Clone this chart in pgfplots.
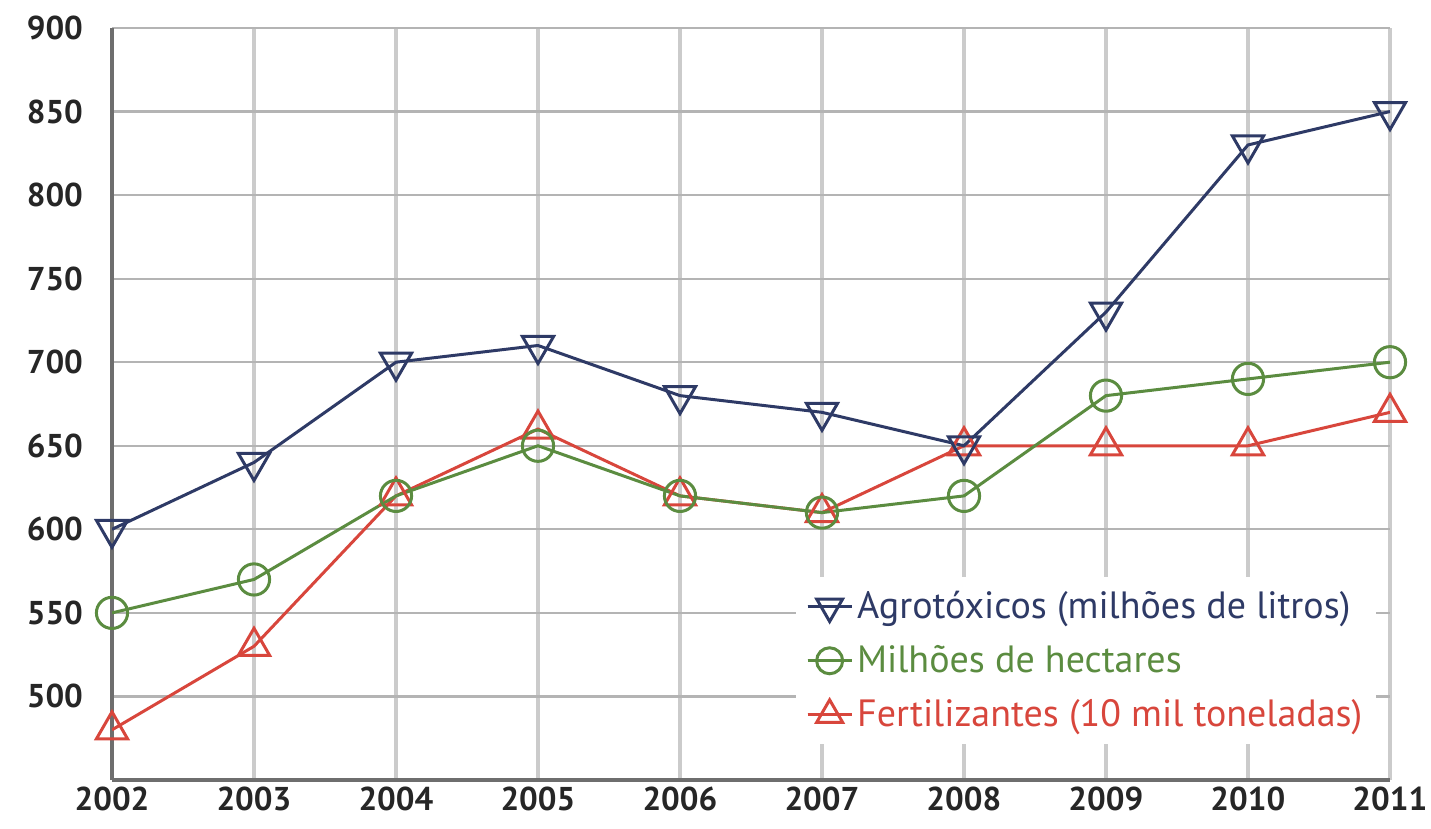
\documentclass[border=0pt]{standalone}
\usepackage{fontspec}
\setmainfont{PT Sans}
\usepackage{pgfplots}
\pgfplotsset{compat=1.18}
\definecolor{agro}{HTML}{2E3A66}
\definecolor{hect}{HTML}{5B8C40}
\definecolor{fert}{HTML}{D8463C}
\definecolor{gridv}{HTML}{CBCBCB}
\definecolor{gridh}{HTML}{B4B4B4}
\definecolor{axisc}{HTML}{6E6E6E}
\begin{document}
\begin{tikzpicture}
\begin{axis}[
  name=ax,
  width=639pt, height=376pt, scale only axis,
  xmin=2002, xmax=2011, ymin=450, ymax=900,
  xtick={2002,...,2011}, ytick={500,550,...,900},
  axis x line*=bottom, axis y line*=left,
  axis line style={axisc, line width=1.6pt, -},
  major tick length=0pt,
  xmajorgrids, ymajorgrids,
  x grid style={gridv, line width=2.2pt},
  y grid style={gridh, line width=1.1pt},
  /pgf/number format/assume math mode=true,
  /pgf/number format/1000 sep={},
  tick label style={font=\fontsize{16.5}{16.5}\selectfont\bfseries, text=black!85},
  yticklabel style={xshift=-11pt},
  xticklabel style={yshift=0pt},
]
\addplot[fert, line width=1.5pt, mark=triangle, mark size=9pt, mark options={fill=white, line width=1.5pt}]
  coordinates {(2002,480) (2003,530) (2004,620) (2005,660) (2006,620) (2007,610) (2008,650) (2009,650) (2010,650) (2011,670)};
\addplot[hect, line width=1.5pt, mark=o, mark size=7.8pt, mark options={fill=white, line width=1.5pt}]
  coordinates {(2002,550) (2003,570) (2004,620) (2005,650) (2006,620) (2007,610) (2008,620) (2009,680) (2010,690) (2011,700)};
\addplot[agro, line width=1.5pt, mark=triangle, mark size=9pt, mark options={rotate=180, fill=white, line width=1.5pt}]
  coordinates {(2002,600) (2003,640) (2004,700) (2005,710) (2006,680) (2007,670) (2008,650) (2009,730) (2010,830) (2011,850)};
\end{axis}
\begin{axis}[
  width=639pt, height=376pt, scale only axis,
  xmin=2002, xmax=2011, ymin=450, ymax=900,
  hide axis,
  legend style={at={(0.535,0.27)}, anchor=north west, draw=none, fill=white,
    font=\fontsize{19}{22}\selectfont, row sep=8pt, inner sep=5pt},
  legend cell align=left,
  legend image code/.code={\draw[#1] (0pt,0pt) -- (22pt,0pt); \draw[#1, mark repeat=2, mark phase=2] plot coordinates {(0pt,0pt) (11pt,0pt) (22pt,0pt)};},
]
\addlegendimage{agro, line width=1.5pt, mark=triangle, mark size=7.5pt, mark options={rotate=180, fill=white, line width=1.5pt}}
\addlegendentry{\textcolor{agro}{Agrotóxicos (milhões de litros)}}
\addlegendimage{hect, line width=1.5pt, mark=o, mark size=6.5pt, mark options={fill=white, line width=1.5pt}}
\addlegendentry{\textcolor{hect}{Milhões de hectares}}
\addlegendimage{fert, line width=1.5pt, mark=triangle, mark size=7.5pt, mark options={fill=white, line width=1.5pt}}
\addlegendentry{\textcolor{fert}{Fertilizantes (10 mil toneladas)}}
\end{axis}
\pgfresetboundingbox
\path[use as bounding box] ([xshift=-56pt,yshift=-24.5pt]ax.south west) rectangle ([xshift=20.5pt,yshift=14pt]ax.north east);
\end{tikzpicture}
\end{document}
